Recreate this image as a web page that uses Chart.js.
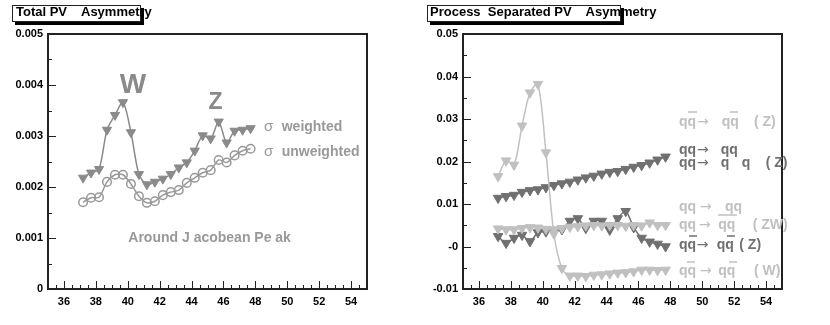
<!DOCTYPE html>
<html><head><meta charset="utf-8">
<script src="https://cdn.jsdelivr.net/npm/chart.js@4"></script>
<style>
body{margin:0;width:830px;height:325px;background:#fff;position:relative;overflow:hidden;font-family:"Liberation Sans",Arial,sans-serif}
canvas{position:absolute;top:0}
#c1{left:0}#c2{left:415px}
.tbox{position:absolute;top:5px;height:15px;border:1px solid #222;background:#fff;box-shadow:3px 3px 0 #000}
.ttext{position:absolute;top:4px;height:16px;line-height:16px;font-weight:bold;font-size:13px;white-space:pre;color:#000}
</style></head>
<body>
<canvas id="c1" width="415" height="325"></canvas>
<canvas id="c2" width="415" height="325"></canvas>
<div class="tbox" style="left:12px;width:127px"></div>
<div class="ttext" style="left:16px">Total PV    Asymmetry</div>
<div class="tbox" style="left:427px;width:192px"></div>
<div class="ttext" style="left:430px">Process  Separated PV    Asymmetry</div>
<script>
// ---- data ----
const jetPt = [37.2,37.7,38.2,38.7,39.2,39.7,40.2,40.7,41.2,41.7,42.2,42.7,43.2,43.7,44.2,44.7,45.2,45.7,46.2,46.7,47.2,47.7];
const sigmaWeighted = [0.00218,0.00228,0.00235,0.00312,0.00341,0.00366,0.00307,0.00225,0.00205,0.00210,0.00216,0.00225,0.00238,0.00248,0.00271,0.00301,0.00295,0.00328,0.00287,0.00310,0.00312,0.00315];
const sigmaUnweighted = [0.00170,0.00179,0.00180,0.00210,0.00224,0.00224,0.00206,0.00182,0.00169,0.00172,0.00184,0.00190,0.00194,0.00208,0.00218,0.00228,0.00233,0.00253,0.00248,0.00262,0.00271,0.00275];
const procPeak = [0.0165,0.0202,0.0192,0.0284,0.0362,0.0382,0.0221,0.0030,-0.0051,-0.0069,-0.0069,-0.0070,-0.0067,-0.0066,-0.0064,-0.0062,-0.0061,-0.0059,-0.0055,-0.0055,-0.0056,-0.0055];
const procRise = [0.0114,0.0118,0.0121,0.0128,0.0132,0.0134,0.0139,0.0144,0.0148,0.0152,0.0157,0.0162,0.0166,0.0171,0.0175,0.0177,0.0182,0.0187,0.0191,0.0197,0.0204,0.0211];
const procFlatZW = [0.0042,0.0040,0.0040,0.0043,0.0045,0.0044,0.0041,0.0040,0.0043,0.0046,0.0047,0.0049,0.0050,0.0049,0.0050,0.0050,0.0048,0.0050,0.0049,0.0056,0.0050,0.0050];
const procZ = [0.0024,0.0008,0.0020,0.0027,0.0012,0.0033,0.0035,0.0037,0.0040,0.0060,0.0066,0.0043,0.0060,0.0060,0.0039,0.0066,0.0083,0.0045,0.0020,0.0011,0.0006,0.0000];

const xTickValues = [36,38,40,42,44,46,48,50,52,54];
const xTickLabels = ["36","38","40","42","44","46","48","50","52","54"];
const yTickValuesL = [0,0.001,0.002,0.003,0.004,0.005];
const yTickLabelsL = ["0","0.001","0.002","0.003","0.004","0.005"];
const yTickValuesR = [-0.01,0,0.01,0.02,0.03,0.04,0.05];
const yTickLabelsR = ["-0.01","-0","0.01","0.02","0.03","0.04","0.05"];

// ---- helpers ----
const FONT = '"Liberation Sans", Arial, sans-serif';
const pts = ys => jetPt.map((x,i)=>({x, y: ys[i]}));

const frameTicks = {
  id:'frameTicks',
  afterDraw(chart){
    const {ctx, chartArea:a, scales:{x,y}} = chart;
    const yv = chart.options.plugins.frameTicks.yTicks;
    ctx.save();
    ctx.strokeStyle='#222'; ctx.lineWidth=1;
    const ln=(x1,y1,x2,y2)=>{ctx.beginPath();ctx.moveTo(x1,y1);ctx.lineTo(x2,y2);ctx.stroke();};
    for(let i=0;i<yv.length;i++){
      const p=Math.round(y.getPixelForValue(yv[i]))+0.5; ln(a.left,p,a.left+8,p);
      if(i<yv.length-1){const m=Math.round(y.getPixelForValue((yv[i]+yv[i+1])/2))+0.5; ln(a.left,m,a.left+4,m);}
    }
    for(let v=35; v<=55; v+=0.5){
      const p=Math.round(x.getPixelForValue(v))+0.5;
      const len = (v%2===0)?8:4;
      ln(p,a.bottom,p,a.bottom-len);
    }
    ctx.lineWidth=2;
    ctx.strokeRect(a.left,a.top,a.right-a.left,a.bottom-a.top);
    ctx.restore();
  }
};

const textLayer = {
  id:'textLayer',
  afterDraw(chart){
    const items = chart.options.plugins.textLayer.items || [];
    const lines = chart.options.plugins.textLayer.lines || [];
    const ctx = chart.ctx; const off = chart.options.plugins.textLayer.offset||0;
    ctx.save();
    for(const t of items){
      ctx.font = t.font; ctx.fillStyle=t.color; ctx.textAlign=t.align||'left'; ctx.textBaseline='middle';
      ctx.fillText(t.text, t.x-off, t.y);
    }
    for(const l of lines){
      ctx.strokeStyle=l.color; ctx.lineWidth=1.5;
      ctx.beginPath(); ctx.moveTo(l.x1-off,l.y); ctx.lineTo(l.x2-off,l.y); ctx.stroke();
    }
    ctx.restore();
  }
};

function baseOptions(ymin,ymax,yVals,yLabels,textItems,textLines,offset){
  return {
    responsive:false, animation:false, devicePixelRatio:1,
    layout:{padding:{left:0,right:48,top:34,bottom:0}},
    plugins:{legend:{display:false},tooltip:{enabled:false},
      frameTicks:{yTicks:yVals},
      textLayer:{items:textItems,lines:textLines,offset:offset}},
    elements:{line:{tension:0.3}},
    scales:{
      x:{type:'linear',min:35,max:55,
        afterBuildTicks:s=>{s.ticks=xTickValues.map(v=>({value:v}));},
        afterFit:s=>{s.height=36;},
        grid:{display:false,drawTicks:false},border:{display:false},
        ticks:{padding:6,color:'#000',font:{family:FONT,size:11,weight:'bold'},maxRotation:0,autoSkip:false,
          callback:v=>xTickLabels[xTickValues.indexOf(v)]}},
      y:{type:'linear',min:ymin,max:ymax,
        afterBuildTicks:s=>{s.ticks=yVals.map(v=>({value:v}));},
        afterFit:s=>{s.width=48;},
        grid:{display:false,drawTicks:false},border:{display:false},
        ticks:{padding:5,color:'#000',font:{family:FONT,size:11,weight:'bold'},autoSkip:false,
          callback:v=>yLabels[yVals.indexOf(v)]}}
    }
  };
}

// ---- left chart ----
const gL='#8a8a8a', gC='#999999';
const leftText = [
  {text:'W',x:133,y:85,font:`bold 28px ${FONT}`,color:gL,align:'center'},
  {text:'Z',x:215.5,y:103,font:`bold 23px ${FONT}`,color:gL,align:'center'},
  {text:'σ',x:264,y:127,font:`15px ${FONT}`,color:gC},
  {text:'weighted',x:281.7,y:127,font:`bold 14px ${FONT}`,color:gC},
  {text:'σ',x:264,y:152,font:`15px ${FONT}`,color:gC},
  {text:'unweighted',x:281.7,y:152,font:`bold 14px ${FONT}`,color:gC},
  {text:'Around J acobean Pe ak',x:128.3,y:238.5,font:`bold 14px ${FONT}`,color:gC}
];
new Chart(document.getElementById('c1'),{
  type:'line',
  data:{datasets:[
    {data:pts(sigmaWeighted),borderColor:gL,borderWidth:1.5,pointStyle:'triangle',rotation:180,
      pointRadius:5.3,pointBackgroundColor:gL,pointBorderColor:gL,pointBorderWidth:1,order:1},
    {data:pts(sigmaUnweighted),borderColor:gC,borderWidth:1.5,pointStyle:'circle',
      pointRadius:4.3,pointBackgroundColor:'rgba(0,0,0,0)',pointBorderColor:gC,pointBorderWidth:1.5,order:2}
  ]},
  options:baseOptions(0,0.005,yTickValuesL,yTickLabelsL,leftText,[],0),
  plugins:[frameTicks,textLayer]
});

// ---- right chart ----
const lt='#c0c0c0', dk='#707070';
const F14=`bold 14px ${FONT}`;
const FA=`14px "DejaVu Sans", sans-serif`;
const rightText = [
  {text:'qq',x:679,y:122,font:F14,color:lt},{text:'→',x:697,y:122,font:FA,color:lt},
  {text:'qq',x:721.7,y:122,font:F14,color:lt},{text:'( Z)',x:754,y:122,font:F14,color:lt},
  {text:'qq',x:679,y:150,font:F14,color:dk},{text:'→',x:697,y:150,font:FA,color:dk},
  {text:'qq',x:720.7,y:150,font:F14,color:dk},
  {text:'qq',x:679,y:163,font:F14,color:dk},{text:'→',x:697,y:163,font:FA,color:dk},
  {text:'q',x:720.7,y:163,font:F14,color:dk},{text:'q',x:741.7,y:163,font:F14,color:dk},
  {text:'( Z)',x:765.7,y:163,font:F14,color:dk},
  {text:'qq',x:679,y:207,font:F14,color:lt},{text:'→',x:700,y:207,font:FA,color:lt},
  {text:'qq',x:725,y:207,font:F14,color:lt},
  {text:'qq',x:679,y:225,font:F14,color:lt},{text:'→',x:699,y:225,font:FA,color:lt},
  {text:'qq',x:718.3,y:225,font:F14,color:lt},{text:'( ZW)',x:752.7,y:225,font:F14,color:lt},
  {text:'qq',x:679,y:245,font:F14,color:dk},{text:'→',x:696.7,y:245,font:FA,color:dk},
  {text:'qq',x:716.7,y:245,font:F14,color:dk},{text:'( Z)',x:739.3,y:245,font:F14,color:dk},
  {text:'qq',x:679,y:271,font:F14,color:lt},{text:'→',x:700,y:271,font:FA,color:lt},
  {text:'qq',x:718.3,y:271,font:F14,color:lt},{text:'( W)',x:754,y:271,font:F14,color:lt}
];
const rightLines = [
  {x1:688,x2:697,y:112,color:lt},{x1:730,x2:738,y:112,color:lt},
  {x1:718,x2:737,y:215,color:lt},
  {x1:689,x2:697,y:236,color:dk},{x1:727,x2:735,y:236,color:dk},
  {x1:687,x2:695,y:262,color:lt},{x1:729,x2:737,y:262,color:lt}
];
const tri = (c,o,ys)=>({data:pts(ys),borderColor:c,borderWidth:1.5,pointStyle:'triangle',rotation:180,
  pointRadius:5.5,pointBackgroundColor:c,pointBorderColor:c,pointBorderWidth:1,order:o});
new Chart(document.getElementById('c2'),{
  type:'line',
  data:{datasets:[
    tri(lt,1,procPeak),
    tri(lt,2,procFlatZW),
    tri(dk,3,procZ),
    tri(dk,4,procRise)
  ]},
  options:baseOptions(-0.01,0.05,yTickValuesR,yTickLabelsR,rightText,rightLines,415),
  plugins:[frameTicks,textLayer]
});
</script>
</body></html>
